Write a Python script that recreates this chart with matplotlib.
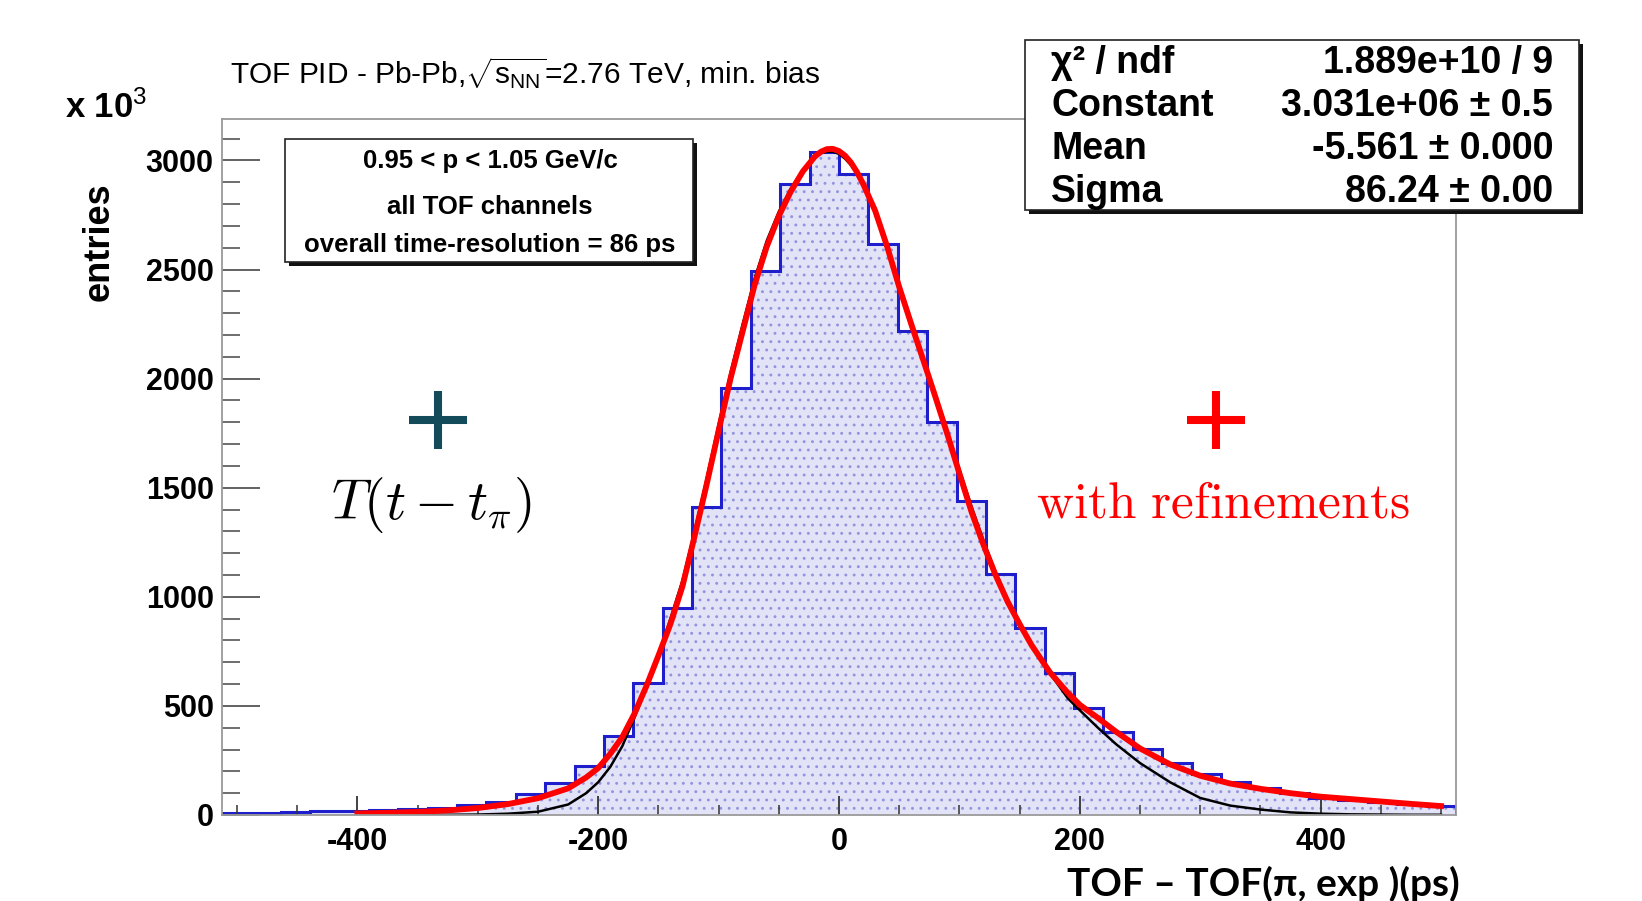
import numpy as np
import matplotlib
matplotlib.use('Agg')
import matplotlib.pyplot as plt
from matplotlib.patches import Rectangle
from matplotlib.lines import Line2D
from matplotlib.ticker import MultipleLocator

plt.rcParams['font.family'] = ['Liberation Sans', 'DejaVu Sans']
plt.rcParams['axes.unicode_minus'] = False
plt.rcParams['mathtext.fontset'] = 'custom'
plt.rcParams['mathtext.rm'] = 'Liberation Sans'
plt.rcParams['mathtext.it'] = 'Liberation Sans:italic'
plt.rcParams['mathtext.bf'] = 'Liberation Sans:bold'
plt.rcParams['hatch.linewidth'] = 0.9

# TOF - TOF(pi, exp) histogram, 42 bins of 24.4 ps, entries in units of 10^3
bin_width = 24.4
n_bins = 42
counts = [7, 10, 14, 17, 20, 23, 28, 33, 44, 58, 95, 147, 225, 362, 603, 950,
          1413, 1959, 2495, 2894, 3040,
          2936, 2619, 2220, 1800, 1440, 1105, 855, 650, 490, 381, 303, 238,
          188, 151, 124, 101, 80, 69, 60, 50, 41]
bin_edges = (np.arange(n_bins + 1) - n_bins // 2) * bin_width

# fit curves (units of 10^3)
curve_x = [-400, -375, -350, -325, -300, -275, -250, -225, -210, -200, -190,
           -180, -170, -160, -150, -140, -130, -120, -110, -100, -90, -80, -70,
           -60, -50, -40, -30, -20, -15, -10, -5, 0, 5, 10, 15, 20, 30, 40, 50,
           60, 70, 80, 90, 100, 110, 120, 130, 140, 150, 160, 175, 190, 200, 215,
           230, 250, 275, 300, 325, 350, 375, 400, 425, 450, 475, 500]
fit_red = [7, 10, 14, 21, 32, 50, 77, 122, 172, 215, 280,
           357, 463, 590, 730, 875, 1048, 1276, 1513, 1761, 2002, 2217, 2431,
           2605, 2745, 2858, 2950, 3018, 3040, 3052, 3053, 3043, 3022, 2990, 2946,
           2893, 2770, 2605, 2420, 2250, 2085, 1917, 1745, 1565, 1390, 1238, 1100,
           978, 875, 778, 655, 560, 505, 445, 382, 305, 232, 180, 144, 120, 100,
           84, 73, 62, 51, 41]
fit_black = [0, 0, 0, 1, 2, 6, 15, 48, 100, 150, 220,
             315, 444, 585, 735, 900, 1075, 1300, 1540, 1790, 2030, 2250, 2460,
             2632, 2765, 2872, 2955, 3015, 3033, 3040, 3040, 3030, 3008, 2978, 2938,
             2888, 2770, 2610, 2435, 2265, 2095, 1930, 1760, 1585, 1415, 1258, 1115,
             990, 882, 783, 650, 535, 480, 400, 325, 238, 150, 78, 43, 25, 12,
             6, 3, 2, 1, 1]

stat_names = ['χ² / ndf', 'Constant', 'Mean', 'Sigma']
stat_values = ['1.889e+10 / 9', '3.031e+06 ± 0.5', '-5.561 ± 0.000', '86.24 ± 0.00']
info_lines = ['0.95 < p < 1.05 GeV/c', 'all TOF channels',
              'overall time-resolution = 86 ps']

W, H = 1642, 901


def fx(px):
    return px / W


def fy(py):
    return 1 - py / H


def boxed(fig, x0, y0, x1, y1, shadow=4):
    fig.patches.append(Rectangle((fx(x0 + shadow), fy(y1 + shadow)),
                                 fx(x1) - fx(x0), fy(y0) - fy(y1),
                                 transform=fig.transFigure, facecolor='#111111',
                                 edgecolor='none', zorder=2))
    fig.patches.append(Rectangle((fx(x0), fy(y1)), fx(x1) - fx(x0), fy(y0) - fy(y1),
                                 transform=fig.transFigure, facecolor='white',
                                 edgecolor='#222222', lw=1.2, zorder=2.1))


fig = plt.figure(figsize=(W / 100, H / 100), dpi=100)
ax = fig.add_axes([fx(222), fy(815), fx(1456) - fx(222), fy(119) - fy(815)])

ax.stairs(counts, bin_edges, fill=True, facecolor='#e3e3f8', edgecolor='#9494de',
          hatch='..', linewidth=0)
ax.stairs(counts, bin_edges, color='#1e1ecc', lw=2.2)
ax.plot(curve_x, fit_black, color='black', lw=1.8, solid_joinstyle='round')
ax.plot(curve_x, fit_red, color='#ff0000', lw=4.2, solid_joinstyle='round')

ax.set_xlim(bin_edges[0], bin_edges[-1])
ax.set_ylim(0, 3190)
ax.xaxis.set_major_locator(MultipleLocator(200))
ax.xaxis.set_minor_locator(MultipleLocator(50))
ax.yaxis.set_major_locator(MultipleLocator(500))
ax.yaxis.set_minor_locator(MultipleLocator(100))
ax.tick_params(axis='y', which='major', direction='in', length=27, width=1.3,
               color='#555555', labelsize=22, pad=6)
ax.tick_params(axis='y', which='minor', direction='in', length=13, width=1.2,
               color='#555555')
ax.tick_params(axis='x', which='major', direction='in', length=14, width=1.3,
               color='#333333', labelsize=22, pad=9)
ax.tick_params(axis='x', which='minor', direction='in', length=7, width=1.1,
               color='#333333')
plt.setp(ax.get_xticklabels() + ax.get_yticklabels(), fontweight='bold')
for sp in ax.spines.values():
    sp.set_color('#9a9a9a')
    sp.set_linewidth(1.3)

# title and axis texts
fig.text(fx(230), fy(73), r'TOF PID - Pb-Pb,$\sqrt{\mathrm{s}_{\mathrm{NN}}}$=2.76 TeV, min. bias',
         fontsize=21.5, ha='left', va='center')
fig.text(fx(65), fy(108), r'x 10$^{3}$', fontsize=25, fontweight='bold',
         ha='left', va='center')
fig.text(fx(99), fy(242), 'entries', rotation=90, fontsize=26, fontweight='bold',
         ha='center', va='center')
fig.text(fx(1263), fy(884), 'TOF – TOF(π, exp )(ps)', family=['Lato', 'DejaVu Sans'],
         fontweight='bold', fontsize=28, ha='center', va='center')

# fit statistics box
boxed(fig, 1025, 40, 1579, 210)
for row, (name, val) in enumerate(zip(stat_names, stat_values)):
    yy = 63 + row * 43
    fig.text(fx(1051), fy(yy), name, fontsize=27, fontweight='bold',
             ha='left', va='center', zorder=3)
    fig.text(fx(1553), fy(yy), val, fontsize=27, fontweight='bold',
             ha='right', va='center', zorder=3)

# selection box
boxed(fig, 285, 139, 693, 262)
for yy, line in zip([161, 207, 245], info_lines):
    fig.text(fx(490), fy(yy), line, fontsize=18.5, fontweight='bold',
             ha='center', va='center', zorder=3)

# annotations
fig.add_artist(Line2D([fx(438)], [fy(420)], marker='+', markersize=42,
                      markeredgewidth=5.8, color='#134b5b', transform=fig.transFigure))
fig.add_artist(Line2D([fx(1216)], [fy(420)], marker='+', markersize=42,
                      markeredgewidth=5.8, color='#ff0000', transform=fig.transFigure))
fig.text(fx(431), fy(505), r'$T(t-t_\pi)$', math_fontfamily='cm', fontsize=40,
         ha='center', va='center')
fig.text(fx(1223), fy(504), r'$\mathrm{with\ refinements}$', math_fontfamily='cm',
         fontsize=37, color='#ff0000', ha='center', va='center')

fig.savefig('out.png', dpi=100)
